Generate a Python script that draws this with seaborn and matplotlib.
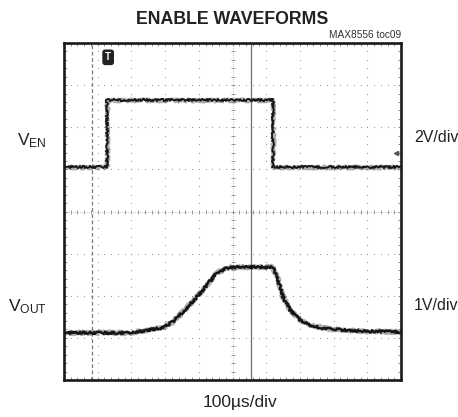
import matplotlib
matplotlib.use('Agg')

import numpy as np
import pandas as pd
import matplotlib.pyplot as plt
import seaborn as sns

# time axis in microseconds (100us/div, 10 div)
ven_time = [0, 128, 128, 620, 620, 1000]
ven_volts = [0.0, 0.0, 3.16, 3.16, 0.0, 0.0]

vout_time = [0, 196, 294, 323, 353, 395, 424, 454, 484, 513, 620, 632, 650,
             671, 700, 739, 789, 887, 1000]
vout_volts = [0.0, 0.0, 0.12, 0.26, 0.50, 0.85, 1.14, 1.42, 1.54, 1.56, 1.56,
              1.33, 0.85, 0.54, 0.31, 0.16, 0.09, 0.04, 0.02]

# channel settings (volts per division, ground level in divisions)
ven_scale, ven_offset = 2.0, 5.06
vout_scale, vout_offset = 1.0, 1.12

trigger_time = 131
cursor_dashed = 83
cursor_solid = 555

sns.set_theme(style='white')
plt.rcParams['font.family'] = ['Liberation Sans', 'DejaVu Sans']

ven = pd.DataFrame({'t': ven_time,
                    'div': [ven_offset + v / ven_scale for v in ven_volts]})
vout = pd.DataFrame({'t': vout_time,
                     'div': [vout_offset + v / vout_scale for v in vout_volts]})

fig = plt.figure(figsize=(4.58, 4.17), dpi=100)
ax = fig.add_axes([64 / 458, 37 / 417, 337 / 458, 337 / 417])
ax.set_xlim(0, 1000)
ax.set_ylim(0, 8)

# dotted graticule
grid_c = '#8a8a8a'
xs = np.arange(0, 1000.1, 20)
ys = np.arange(0, 8.01, 0.2)
for gy in range(1, 8):
    if gy == 4:
        continue
    ax.plot(xs, [gy] * len(xs), ls='none', marker='.', ms=1.6, color=grid_c, mew=0)
for gx in range(100, 1000, 100):
    if gx == 500:
        continue
    ax.plot([gx] * len(ys), ys, ls='none', marker='.', ms=1.6, color=grid_c, mew=0)

# centre crosshair with minor ticks
ax.plot([0, 1000], [4, 4], ls=':', lw=0.6, color='#aaaaaa')
ax.plot(xs, [4] * len(xs), ls='none', marker='|', ms=3.5, mew=0.7, color='#999999')
ax.plot([500, 500], [0, 8], ls=':', lw=0.6, color='#aaaaaa')
ax.plot([500] * len(ys), ys, ls='none', marker='_', ms=3.5, mew=0.7, color='#999999')

# cursors
ax.axvline(cursor_dashed, color='#7c7c7c', lw=0.9, ls=(0, (3, 2)))
ax.axvline(cursor_solid, color='#6e6e6e', lw=0.9)

# traces: a grey fuzzy halo under a noisy dark core
for df, w in ((ven, 1.3), (vout, 1.7)):
    sns.lineplot(data=df, x='t', y='div', sort=False, estimator=None, ax=ax,
                 color='#777777', lw=w + 1.0, alpha=0.6)
    ax.lines[-1].set_sketch_params(scale=1.5, length=0.7, randomness=3)
    sns.lineplot(data=df, x='t', y='div', sort=False, estimator=None, ax=ax,
                 color='#151515', lw=w)
    ax.lines[-1].set_sketch_params(scale=1.2, length=0.8, randomness=3)

# trigger marker and ground reference
ax.text(trigger_time, 7.66, 'T', color='white', fontsize=7, fontweight='bold',
        ha='center', va='center',
        bbox=dict(boxstyle='round,pad=0.22', fc='#222222', ec='#222222'))
ax.plot([985], [5.39], marker='<', ms=3, color='#555555', ls='none')
ax.plot([985, 1000], [5.39, 5.39], color='#555555', lw=0.7)

# frame and edge ticks
ax.set_xticks(xs)
ax.set_yticks(ys)
ax.tick_params(which='both', direction='in', length=2.5, width=0.6,
               color='#777777', top=True, right=True, bottom=True, left=True,
               labelbottom=False, labelleft=False)
for sp in ax.spines.values():
    sp.set_linewidth(1.9)
    sp.set_color('#1a1a1a')
ax.set_xlabel('')
ax.set_ylabel('')

# texts
fig.text(232 / 458, 1 - 19 / 417, 'ENABLE WAVEFORMS', fontsize=12.8,
         fontweight='bold', ha='center', va='center', color='#222222')
fig.text(401 / 458, 1 - 35 / 417, 'MAX8556 toc09', fontsize=7.3,
         ha='right', va='center', color='#333333')
fig.text(47 / 458, 1 - 141 / 417, r'$\mathregular{V_{EN}}$', fontsize=12.5,
         ha='right', va='center', color='#222222')
fig.text(47 / 458, 1 - 307 / 417, r'$\mathregular{V_{OUT}}$', fontsize=12.5,
         ha='right', va='center', color='#222222')
fig.text(414 / 458, 1 - 138 / 417, '2V/div', fontsize=11.5,
         ha='left', va='center', color='#222222')
fig.text(414 / 458, 1 - 305 / 417, '1V/div', fontsize=11.5,
         ha='left', va='center', color='#222222')
fig.text(240 / 458, 1 - 403 / 417, '100µs/div', fontsize=12.5,
         ha='center', va='center', color='#222222')

fig.savefig('out.png', dpi=100)
